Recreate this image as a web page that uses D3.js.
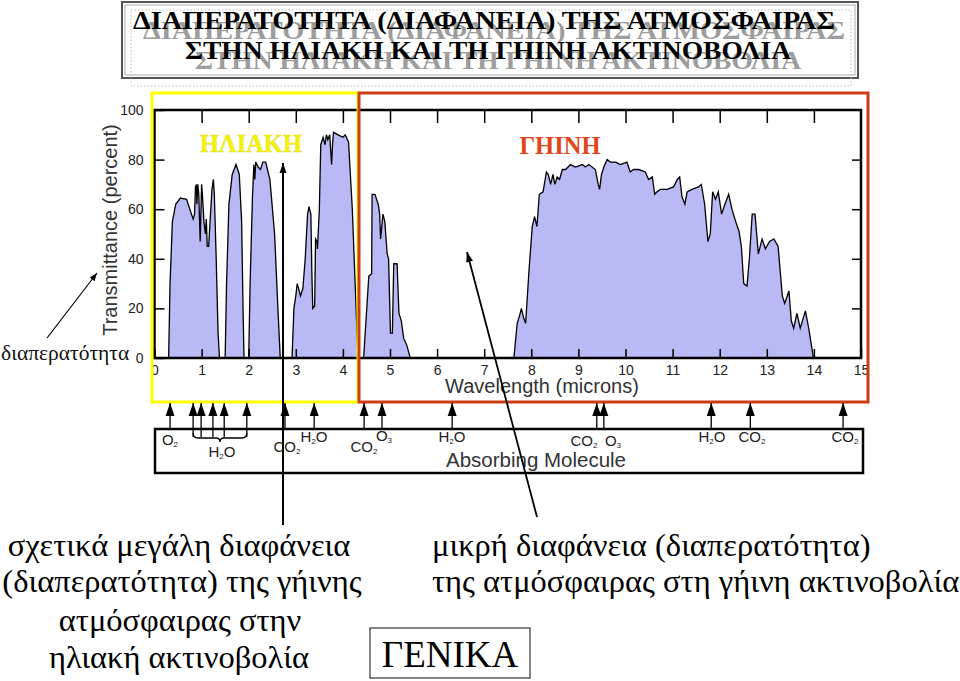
<!DOCTYPE html>
<html><head><meta charset="utf-8">
<script src="https://cdn.jsdelivr.net/npm/d3@7"></script>
<style>body{margin:0;background:#fff}svg{display:block}</style>
</head><body>
<svg id="c" width="960" height="681"></svg>
<script>
// ---------------- DATA ----------------
const wavelengths = [0,0.30,0.33,0.38,0.45,0.55,0.68,0.75,0.82,0.85,0.87,0.89,0.90,0.92,0.94,0.97,0.99,1.00,1.02,1.05,1.08,1.10,1.12,1.15,1.18,1.22,1.25,1.27,1.31,1.35,1.38,
1.50,1.53,1.58,1.65,1.73,1.80,1.85,1.88,1.90,
2.00,2.03,2.08,2.11,2.13,2.15,2.20,2.25,2.30,2.36,2.45,2.55,2.62,2.67,
2.92,2.96,3.00,3.03,3.06,3.10,3.15,3.20,3.25,3.28,3.32,3.34,3.36,3.40,3.42,3.45,3.46,3.50,3.53,3.58,3.62,3.65,3.68,3.72,3.74,3.76,3.78,3.80,3.90,4.00,4.05,4.12,4.20,4.28,4.32,
4.44,4.49,4.55,4.61,4.62,4.68,4.75,4.78,4.80,4.85,4.89,4.94,4.97,5.01,5.05,5.08,5.15,5.19,5.24,5.29,5.36,5.43,
7.63,7.70,7.75,7.79,7.84,7.88,7.95,8.02,8.07,8.12,8.17,8.25,8.32,8.36,8.41,8.46,8.50,8.55,8.60,8.66,8.73,8.83,8.94,9.08,9.15,9.22,9.36,9.42,9.45,9.49,9.54,9.61,9.68,9.79,9.89,10.03,10.10,10.17,10.28,10.42,10.49,10.57,10.62,10.67,10.74,10.88,11.02,11.10,11.15,11.20,11.26,11.31,11.41,11.55,11.61,11.68,11.75,11.80,11.85,11.91,11.97,12.04,12.11,12.19,12.26,12.34,12.41,12.46,12.51,12.58,12.63,12.69,12.75,12.82,12.90,12.97,13.06,13.15,13.24,13.33,13.38,13.47,13.52,13.57,13.64,13.71,13.82,13.89,13.99,15];
const transmittance = [0,0,30,55,62,64.5,64,60,56,58,69,70,62,70,66,47,62,70,65,55,50,56,45,45,55,68,72,66,40,10,0,
0,30,62,74,78,74,55,20,0,
0,30,65,78,72,79,77,76,79,79,72,50,20,0,
0,20,25,30,28,25,28,40,58,61,58,35,20,21,48,47,44,60,86,89,86,90,88,90,84,78,86,91,90,89,90,87,60,20,0,
0,15,33,34,66,66,62,58,48,58,55,42,40,10,10,38,38,18,15,8,5,0,
0,14,17,20,16,14,35,53,57,53,66,67,75,74,70,74,70,73,72,76,76,78,77,78,77,78,76,70,68,74,77,80,79,79,78,79,75,76,76,75,72,73,66,67,68,68,69,72,73,65,62,67,68,69,70,62,47,50,67,64,67,58,62,66,60,55,51,45,30,29,40,58,58,42,48,44,47,48,45,25,22,27,15,12,18,12,19,12,0,0];
const xTicks = [0,1,2,3,4,5,6,7,8,9,10,11,12,13,14,15];
const yTicks = [0,20,40,60,80,100];
const absorbWavelengths = [0.33,0.82,0.99,1.24,1.48,1.96,2.77,3.39,4.45,4.83,6.32,9.39,9.54,11.82,12.65,14.62];
const absorbLabels = ["O2","H2O","CO2","H2O","CO2","O3","H2O","CO2","O3","H2O","CO2","CO2"];
const titleLines = ["ΔΙΑΠΕΡΑΤΟΤΗΤΑ (ΔΙΑΦΑΝΕΙΑ) ΤΗΣ ΑΤΜΟΣΦΑΙΡΑΣ","ΣΤΗΝ ΗΛΙΑΚΗ ΚΑΙ ΤΗ ΓΗΙΝΗ ΑΚΤΙΝΟΒΟΛΙΑ"];
const regionLabels = ["ΗΛΙΑΚΗ","ΓΗΙΝΗ"];
const leftNote = ["σχετικά μεγάλη διαφάνεια","(διαπερατότητα) της γήινης","ατμόσφαιρας στην","ηλιακή ακτινοβολία"];
const rightNote = ["μικρή διαφάνεια (διαπερατότητα)","της ατμόσφαιρας στη γήινη ακτινοβολία"];
const boxNote = "ΓΕΝΙΚΑ";
const sideNote = "διαπερατότητα";
const yAxisTitle = "Transmittance (percent)";
const xAxisTitle = "Wavelength (microns)";
const absorbTitle = "Absorbing Molecule";

// ---------------- LAYOUT ----------------
const svg = d3.select("#c");
const serif = "'Liberation Serif'";
const sans = "'Liberation Sans'";
const X0 = 154.5, X1 = 861, Y0 = 358, Y1 = 110;
const x = d3.scaleLinear().domain([0,15]).range([X0,X1]);
const y = d3.scaleLinear().domain([0,100]).range([Y0,Y1]);

function txt(sel, t, fam, size){
  return sel.append("text").text(t).style("font-family",fam).style("font-size",size+"px");
}

// title box
svg.append("rect").attr("x",122).attr("y",2).attr("width",736).attr("height",76)
  .attr("fill","none").attr("stroke","#555").attr("stroke-width",2);
svg.append("rect").attr("x",125).attr("y",5).attr("width",730).attr("height",70)
  .attr("fill","none").attr("stroke","#999").attr("stroke-width",0.8);
svg.append("rect").attr("x",131).attr("y",10).attr("width",720).attr("height",76)
  .attr("fill","none").attr("stroke","#bbb").attr("stroke-width",1).attr("stroke-dasharray","1.5,2");
const titleY = [29, 59], titleW = [702, 606], titleCx = [484, 488];
[[10,10,"#9c9c9c"],[0,0,"#000"]].forEach(([dx,dy,col])=>{
  titleLines.forEach((t,i)=>{
    txt(svg,t,serif,26).attr("x",titleCx[i]+dx).attr("y",titleY[i]+dy)
      .attr("text-anchor","middle").style("font-weight","bold").attr("fill",col)
      .attr("textLength",titleW[i]).attr("lengthAdjust","spacingAndGlyphs");
  });
});

// plot
const area = d3.area().x((d,i)=>x(wavelengths[i])).y0(y(0)).y1((d,i)=>y(transmittance[i]));
const line = d3.line().x((d,i)=>x(wavelengths[i])).y((d,i)=>y(transmittance[i]));
svg.append("path").datum(transmittance).attr("d",area).attr("fill","#b9b9f6");
svg.append("path").datum(transmittance).attr("d",line).attr("fill","none").attr("stroke","#000").attr("stroke-width",1.3);

const gL = svg.append("g").attr("transform",`translate(${X0},0)`)
  .call(d3.axisLeft(y).tickValues(yTicks).tickSize(-10).tickPadding(11));
const gB = svg.append("g").attr("transform",`translate(0,${Y0})`)
  .call(d3.axisBottom(x).tickValues(xTicks).tickSize(-9).tickPadding(5));
const gT = svg.append("g").attr("transform",`translate(0,${Y1})`)
  .call(d3.axisTop(x).tickValues(xTicks.slice(1,-1)).tickSize(-13).tickFormat(""));
const gR = svg.append("g").attr("transform",`translate(${X1},0)`)
  .call(d3.axisRight(y).tickValues(yTicks.slice(1,-1)).tickSize(-9).tickFormat(""));
[gL,gB,gT,gR].forEach(g=>{
  g.attr("font-family",null).attr("font-size",null);
  g.select(".domain").remove();
  g.selectAll("line").attr("stroke","#000").attr("stroke-width",1.5);
  g.selectAll("text").style("font-family",sans).style("font-size","14px").attr("fill","#222");
});
gB.selectAll("text").attr("dy","0.85em");
svg.append("rect").attr("x",X0).attr("y",Y1).attr("width",X1-X0).attr("height",Y0-Y1)
  .attr("fill","none").attr("stroke","#000").attr("stroke-width",2.5);

// axis titles
txt(svg,yAxisTitle,sans,20).attr("transform","translate(117,230) rotate(-90)")
  .attr("text-anchor","middle").attr("fill","#333");
txt(svg,xAxisTitle,sans,20).attr("x",542).attr("y",393)
  .attr("text-anchor","middle").attr("fill","#333");

// region boxes
svg.append("rect").attr("x",152).attr("y",93).attr("width",206).attr("height",309)
  .attr("fill","none").attr("stroke","#ffff00").attr("stroke-width",3);
svg.append("rect").attr("x",359).attr("y",93).attr("width",509).attr("height",309)
  .attr("fill","none").attr("stroke","#cc3d14").attr("stroke-width",3);
txt(svg,regionLabels[0],serif,24.5).attr("x",251).attr("y",152).attr("text-anchor","middle")
  .style("font-weight","bold").attr("fill","#f4f400").attr("stroke","#d8d860").attr("stroke-width",0.4);
txt(svg,regionLabels[1],serif,24.5).attr("x",560).attr("y",154).attr("text-anchor","middle")
  .style("font-weight","bold").attr("fill","#e0461a");

// arrow helper
function arrow(x1,y1,x2,y2,w,hw,hl){
  svg.append("line").attr("x1",x1).attr("y1",y1).attr("x2",x2).attr("y2",y2)
    .attr("stroke","#000").attr("stroke-width",w);
  const a = Math.atan2(y2-y1,x2-x1);
  const bx = x2-hl*Math.cos(a), by = y2-hl*Math.sin(a);
  const px = -Math.sin(a)*hw, py = Math.cos(a)*hw;
  svg.append("path").attr("d",`M${x2},${y2}L${bx+px},${by+py}L${bx-px},${by-py}Z`).attr("fill","#000");
}

// absorbing molecule box
svg.append("rect").attr("x",155).attr("y",429).attr("width",708).attr("height",44)
  .attr("fill","#fff").attr("stroke","#000").attr("stroke-width",2.5);
const bracketSet = [1,2,3,4,5];
absorbWavelengths.forEach((w,i)=>{
  const xx = x(w);
  const bottom = bracketSet.includes(i) ? 437 : 430;
  arrow(xx,bottom,xx,403,1.3,4.5,13);
});
{
  const a = x(absorbWavelengths[1]), b = x(absorbWavelengths[5]), m = (a+b)/2;
  svg.append("path").attr("d",`M${a},433 Q${a},438 ${a+5},438 L${m-4},438 Q${m},438 ${m},442 Q${m},438 ${m+4},438 L${b-5},438 Q${b},438 ${b},433`)
    .attr("fill","none").attr("stroke","#000").attr("stroke-width",1.4);
}
const labelPos = [[170,445],[222,457],[287,452],[314,442],[364,452],[384,441],[452,442],[584,446],[613,446],[712,442],[752,442],[845,442]];
absorbLabels.forEach((lab,i)=>{
  const t = svg.append("text").attr("x",labelPos[i][0]).attr("y",labelPos[i][1])
    .attr("text-anchor","middle").style("font-family",sans).style("font-size","15px").attr("fill","#222");
  let prevDigit = false;
  lab.split("").forEach(ch=>{
    const dig = /\d/.test(ch);
    t.append("tspan").text(ch).style("font-size",(dig?8:15)+"px").attr("dy",dig?2:(prevDigit?-2:0));
    prevDigit = dig;
  });
});
txt(svg,absorbTitle,sans,20.5).attr("x",536).attr("y",467).attr("text-anchor","middle").attr("fill","#333");

// side note
txt(svg,sideNote,serif,21.5).attr("x",1).attr("y",360).attr("fill","#111");
arrow(47,338,97,273,1.2,3,8);

// annotation arrows
arrow(283,525,283,163,2,3.5,10);
arrow(537,517,467,252,1.8,3.5,10);

// notes
const leftY = [556,592,631,668];
const leftCx = [179,182,180,179];
leftNote.forEach((t,i)=>txt(svg,t,serif,32.5).attr("x",leftCx[i]).attr("y",leftY[i])
  .attr("text-anchor","middle").attr("fill","#000"));
rightNote.forEach((t,i)=>txt(svg,t,serif,32.5).attr("x",432).attr("y",leftY[i]).attr("fill","#000"));
svg.append("rect").attr("x",370).attr("y",628).attr("width",160).attr("height",50)
  .attr("fill","none").attr("stroke","#333").attr("stroke-width",1.2);
txt(svg,boxNote,serif,37).attr("x",450).attr("y",667).attr("text-anchor","middle").attr("fill","#000");
</script>
</body></html>
